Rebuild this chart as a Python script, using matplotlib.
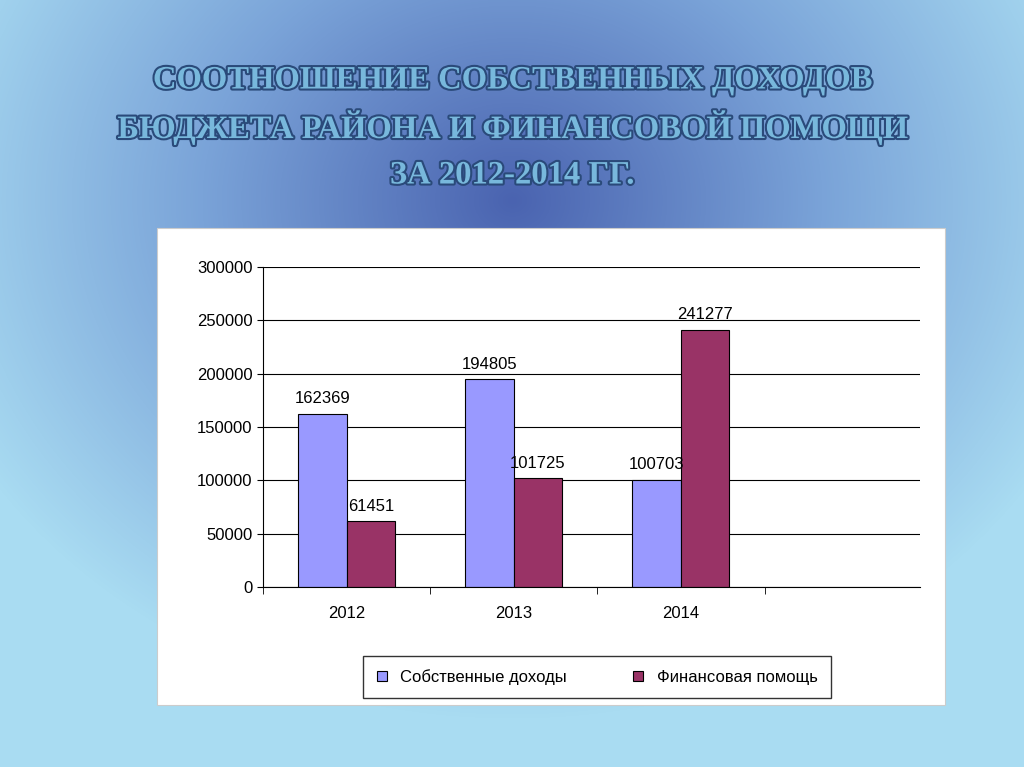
import numpy as np
import matplotlib
matplotlib.use("Agg")
import matplotlib.pyplot as plt
import matplotlib.patheffects as pe
from matplotlib.colors import LinearSegmentedColormap

categories = ["2012", "2013", "2014", ""]
own_income = [162369, 194805, 100703, None]
fin_help = [61451, 101725, 241277, None]
series_names = ["Собственные доходы", "Финансовая помощь"]
title_lines = ["СООТНОШЕНИЕ СОБСТВЕННЫХ ДОХОДОВ", "БЮДЖЕТА РАЙОНА И ФИНАНСОВОЙ ПОМОЩИ", "ЗА 2012-2014 ГГ."]

W, H = 1024, 767
fig = plt.figure(figsize=(W/100, H/100), dpi=100)

bg = fig.add_axes([0, 0, 1, 1])
yy, xx = np.mgrid[0:H, 0:W]
d = np.sqrt(((xx-512)/620.0)**2 + ((yy-200)/520.0)**2)
d = np.clip(d, 0, 1)
cmap = LinearSegmentedColormap.from_list("bg", ["#4a63b0", "#7aa3d8", "#a9dcf2"])
bg.imshow(d, cmap=cmap, aspect="auto", extent=[0, W, H, 0])
bg.set_xlim(0, W); bg.set_ylim(H, 0); bg.axis("off")

bg.add_patch(plt.Rectangle((157, 228), 788, 477, facecolor="white", edgecolor="#cccccc", lw=0.8))

for t, y in zip(title_lines, [80, 127, 175]):
    bg.text(512, y, t, ha="center", va="center", fontsize=23.5, fontweight="bold",
            family="Liberation Serif", color="#78b8dc",
            path_effects=[pe.withStroke(linewidth=3, foreground="#2a4a7a")])

ax = fig.add_axes([263/W, 1-587/H, (920-263)/W, (587-267)/H])
x = np.arange(len(categories))
bw = 0.29
v1 = [v if v is not None else 0 for v in own_income]
v2 = [v if v is not None else 0 for v in fin_help]
b1 = ax.bar(x[:3]-bw/2, v1[:3], bw, color="#9999ff", edgecolor="black", lw=0.8, label=series_names[0])
b2 = ax.bar(x[:3]+bw/2, v2[:3], bw, color="#993366", edgecolor="black", lw=0.8, label=series_names[1])
for bars, vals in ((b1, v1), (b2, v2)):
    for r, v in zip(bars, vals[:3]):
        ax.text(r.get_x()+r.get_width()/2, v+7000, str(v), ha="center", va="bottom", fontsize=12, family="Liberation Sans")
ax.set_xlim(-0.5, 3.43)
ax.set_ylim(0, 300000)
ax.set_yticks(range(0, 300001, 50000))
ax.yaxis.grid(True, color="black", lw=0.8)
ax.set_axisbelow(True)
ax.set_xticks(x)
ax.set_xticklabels(categories, fontsize=12, family="Liberation Sans")
ax.set_xticks(np.arange(-0.5, 3.5, 1), minor=True)
ax.tick_params(axis="x", which="major", length=0, pad=14)
ax.tick_params(axis="x", which="minor", length=5)
ax.tick_params(axis="y", labelsize=12, length=4)
for l in ax.get_yticklabels():
    l.set_family("Liberation Sans")
for s in ["top", "right"]:
    ax.spines[s].set_visible(False)
ax.set_facecolor("white")

fig.legend(handles=[b1, b2], loc="center", bbox_to_anchor=(597/W, 1-677/H), ncol=2,
           fancybox=False, edgecolor="black", prop={"family": "Liberation Sans", "size": 12},
           handlelength=0.6, handleheight=0.6, columnspacing=4, borderpad=0.8)

fig.savefig("out.png", dpi=100)
